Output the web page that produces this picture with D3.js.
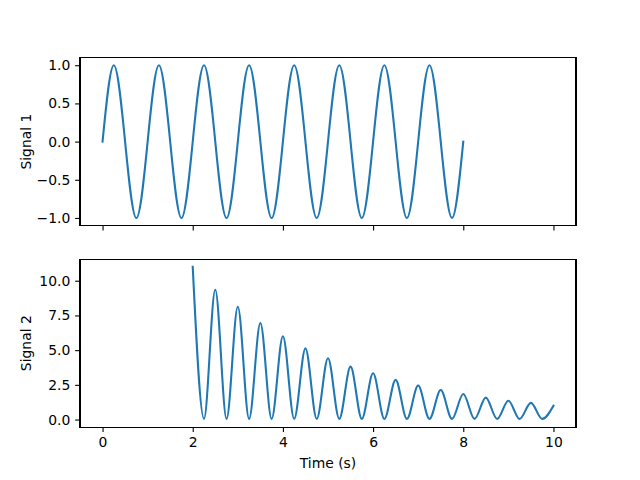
<!DOCTYPE html>
<html>
<head>
<meta charset="utf-8">
<script src="https://cdn.jsdelivr.net/npm/d3@7"></script>
<style>
body { margin: 0; background: #fff; }
text { font-family: "DejaVu Sans", sans-serif; font-size: 13.9px; fill: #000; }
</style>
</head>
<body>
<div class="plate"></div>
<script>
// signal 1, read at quarter periods
var s1Time = [0,0.25,0.5,0.75,1,1.25,1.5,1.75,2,2.25,2.5,2.75,3,3.25,3.5,3.75,4,
  4.25,4.5,4.75,5,5.25,5.5,5.75,6,6.25,6.5,6.75,7,7.25,7.5,7.75,8]
var s1Value = [0,1,0,-1,0,1,0,-1,0,1,0,-1,0,1,0,-1,0,
  1,0,-1,0,1,0,-1,0,1,0,-1,0,1,0,-1,0]

// signal 2, peaks and troughs
var s2Time = [2,2.25,2.5,2.75,3,3.25,3.5,3.75,4,4.25,4.5,4.75,5,5.25,5.5,5.75,6,
  6.25,6.5,6.75,7,7.25,7.5,7.75,8,8.25,8.5,8.75,9,9.25,9.5,9.75,10]
var s2Value = [11.0,0.05,9.35,0.05,8.12,0.05,6.95,0.05,6.0,0.05,5.13,0.05,4.42,0.05,3.81,0.05,3.33,
  0.05,2.86,0.05,2.45,0.05,2.13,0.05,1.84,0.05,1.58,0.05,1.36,0.05,1.2,0.05,1.0]

var xTicks = [0,2,4,6,8,10]
var y1Ticks = [-1,-0.5,0,0.5,1]
var y2Ticks = [0,2.5,5,7.5,10]

var svgWidth = 640
var svgHeight = 480
var left = 80, right = 576
var top1 = 57.6, bot1 = 225.6
var top2 = 259.2, bot2 = 427.2
var blue = "#1f77b4"

var svg = d3.select(".plate")
  .append("svg")
  .attr("width", svgWidth)
  .attr("height", svgHeight)

var x = d3.scaleLinear().domain([-0.5, 10.5]).range([left, right])
var y1 = d3.scaleLinear().domain([-1.1, 1.1]).range([bot1, top1])
var y2 = d3.scaleLinear().domain([-0.55, 11.55]).range([bot2, top2])

var fmt = d3.format(".1f")

function drawPanel(yScale, yTicks, top, bot, times, values, curve, ylab, showX) {
  var g = svg.append("g")

  var pts = times.map(function(t, i) { return [t, values[i]] })
  var line = d3.line()
    .x(function(d) { return x(d[0]) })
    .y(function(d) { return yScale(d[1]) })
    .curve(curve)

  g.append("path")
    .datum(pts)
    .attr("d", line)
    .attr("fill", "none")
    .attr("stroke", blue)
    .attr("stroke-width", 2.08)
    .attr("stroke-linejoin", "round")
    .attr("stroke-linecap", "square")

  var xa = g.append("g")
    .attr("transform", "translate(0," + bot + ")")
    .call(d3.axisBottom(x).tickValues(xTicks).tickSize(4.86).tickPadding(4.86)
      .tickFormat(showX ? d3.format("d") : function() { return "" }))
  var ya = g.append("g")
    .attr("transform", "translate(" + left + ",0)")
    .call(d3.axisLeft(yScale).tickValues(yTicks).tickSize(4.86).tickPadding(4.86).tickFormat(fmt))

  ;[xa, ya].forEach(function(a) {
    a.select(".domain").remove()
    a.selectAll("line").attr("stroke", "#000").attr("stroke-width", 1.1)
    a.selectAll("text").attr("font-size", null).attr("font-family", null)
  })

  g.append("rect")
    .attr("x", left).attr("y", top)
    .attr("width", right - left).attr("height", bot - top)
    .attr("fill", "none")
    .attr("stroke", "#000")
    .attr("stroke-width", 1.1)
    .attr("shape-rendering", "crispEdges")

  g.append("text")
    .attr("transform", "translate(31," + ((top + bot) / 2) + ") rotate(-90)")
    .attr("text-anchor", "middle")
    .text(ylab)
}

drawPanel(y1, y1Ticks, top1, bot1, s1Time, s1Value, d3.curveNatural, "Signal 1", false)
drawPanel(y2, y2Ticks, top2, bot2, s2Time, s2Value, d3.curveMonotoneX, "Signal 2", true)

svg.append("text")
  .attr("x", (left + right) / 2)
  .attr("y", 468)
  .attr("text-anchor", "middle")
  .text("Time (s)")
</script>
</body>
</html>
